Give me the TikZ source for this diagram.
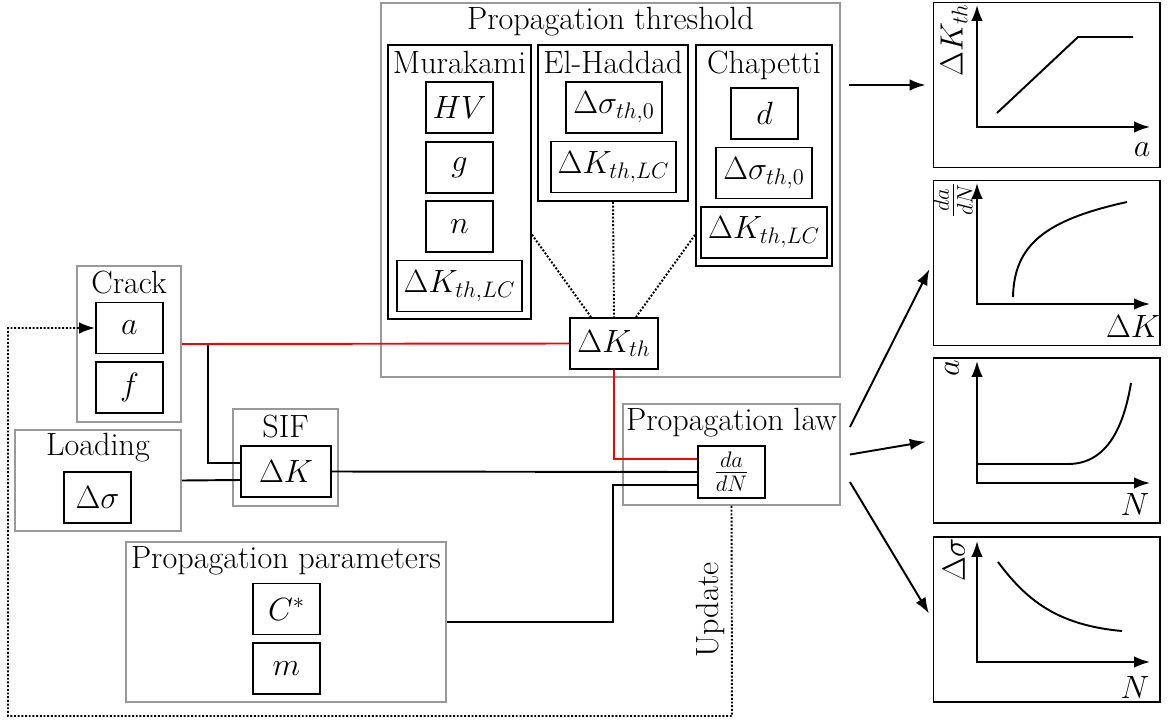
\RequirePackage{fix-cm}
\documentclass[tikz,border=0pt]{standalone}
\usetikzlibrary{arrows.meta}
\tikzset{
  box/.style={draw, line width=1.1pt, minimum width=1.34cm, minimum height=1.02cm, inner xsep=0.14cm},
  group/.style={draw=black!40, line width=1.1pt},
  framed/.style={draw, line width=1.1pt},
  plotbox/.style={draw, line width=0.6pt, minimum width=4.54cm, minimum height=3.3cm},
  title/.style={anchor=base},
  wire/.style={line width=1.1pt},
}
\begin{document}
\begin{tikzpicture}[x=0.02cm, y=-0.02cm, font=\fontsize{18.3}{22}\selectfont, >={Latex[length=9pt,width=6.5pt]}]
\useasboundingbox (0,0) rectangle (1169,723);

% propagation threshold
\node[group, minimum width=9.18cm, minimum height=7.48cm] (thr) at (610.5,190) {};
\node[title] (thrtitle) at (610.5,30) {Propagation threshold};
\node[framed, minimum width=2.86cm, minimum height=5.48cm] (mura) at (459.5,182) {};
\node[title] (muratitle) at (459.5,73) {Murakami};
\node[box] (mhv) at (459.5,107.5) {$HV$};
\node[box] (mg) at (459.5,167.5) {$g$};
\node[box] (mn) at (459.5,226.5) {$n$};
\node[box] (mk) at (459.5,286) {$\Delta K_{th,LC}$};
\node[framed, minimum width=3cm, minimum height=3.12cm] (elh) at (613,123) {};
\node[title] (elhtitle) at (613,73) {El-Haddad};
\node[box] (eds) at (614,107.5) {$\Delta\sigma_{th,0}$};
\node[box] (ek) at (613.5,167) {$\Delta K_{th,LC}$};
\node[framed, minimum width=2.72cm, minimum height=4.42cm] (chap) at (764,155.5) {};
\node[title] (chaptitle) at (764,73) {Chapetti};
\node[box] (cd) at (764.5,113.5) {$d$};
\node[box] (cds) at (764,173) {$\Delta\sigma_{th,0}$};
\node[box] (ck) at (764,232.5) {$\Delta K_{th,LC}$};
\node[box] (dkth) at (614,343.5) {$\Delta K_{th}$};

% crack, loading, SIF
\node[group, minimum width=2.08cm, minimum height=3.12cm] (crack) at (129,344) {};
\node[title] (cracktitle) at (129,293) {Crack};
\node[box] (a) at (129.5,328) {$a$};
\node[box] (f) at (129.5,387.5) {$f$};
\node[group, minimum width=3.32cm, minimum height=2.02cm] (loading) at (98,480.5) {};
\node[title] (loadtitle) at (98,455) {Loading};
\node[box] (ds) at (97.5,497.5) {$\Delta\sigma$};
\node[group, minimum width=2.1cm, minimum height=1.94cm] (sif) at (285.5,457.5) {};
\node[title] (siftitle) at (285.5,437) {SIF};
\node[box, minimum width=1.8cm] (dk) at (286,471.5) {$\Delta K$};

% propagation parameters and law
\node[group, minimum width=6.4cm, minimum height=3.2cm] (pp) at (286,622) {};
\node[title] (pptitle) at (286,568) {Propagation parameters};
\node[box] (cstar) at (286.5,609) {$C^*$};
\node[box] (m) at (286.5,668.5) {$m$};
\node[group, minimum width=4.34cm, minimum height=2.02cm] (law) at (731.5,454.5) {};
\node[title] (lawtitle) at (731.5,430) {Propagation law};
\node[box] (dadn) at (731.5,472) {$\frac{da}{dN}$};

% connections
\draw[wire, densely dotted] (mura.-36.5) -- ([xshift=-0.46cm]dkth.north);
\draw[wire, densely dotted] (elh.south) -- (dkth.north);
\draw[wire, densely dotted] (chap.229.5) -- ([xshift=0.44cm]dkth.north);
\coordinate (split) at (208,344);
\draw[wire] (split) |- ([yshift=0.17cm]dk.west);
\draw[wire, red] (crack.east) -- (dkth.west);
\draw[wire, red] (dkth.south) |- ([yshift=0.26cm]dadn.west);
\draw[wire] (loading.east) -- ([yshift=-0.17cm]dk.west);
\draw[wire] (dk.east) -- (dadn.west);
\coordinate (bend) at (613,622);
\draw[wire] (pp.east) -- (bend) |- ([yshift=-0.26cm]dadn.west);
\coordinate (upd) at (732,716);
\coordinate (back) at (8,716);
\draw[wire, densely dotted, ->] (law.south) -- (upd) -- (back) |- (a.west);
\node[rotate=90] (updlabel) at (710,610) {Update};

% graphs
\node[plotbox] (g1) at (1046.5,85) {};
\node[plotbox] (g2) at (1046.5,263) {};
\node[plotbox] (g3) at (1046.5,440.5) {};
\node[plotbox] (g4) at (1046.5,619.5) {};
\draw[wire, ->, shorten >=0.14cm] ([xshift=0.16cm]thr.east |- g1.west) -- (g1.west);
\draw[wire, ->, shorten >=0.14cm] ([xshift=0.18cm, yshift=0.55cm]law.east) -- (g2.west);
\draw[wire, ->, shorten >=0.14cm] ([xshift=0.18cm]law.east) -- (g3.west);
\draw[wire, ->, shorten >=0.14cm] ([xshift=0.18cm, yshift=-0.55cm]law.east) -- (g4.west);

\draw[wire, <->] (977,5) -- (977,127) -- (1150,127);
\draw[wire] (997,113) -- (1078,37) -- (1133,37);
\node[rotate=90] (g1y) at (954,40) {$\Delta K_{th}$};
\node (g1x) at (1142,150) {$a$};

\draw[wire, <->] (977,183) -- (977,304) -- (1150,304);
\draw[wire] (1013,297) .. controls (1014,245) and (1045,220) .. (1127,202);
\node[rotate=90] (g2y) at (953,200) {$\frac{da}{dN}$};
\node (g2x) at (1133,327) {$\Delta K$};

\draw[wire, <->] (977,361) -- (977,483) -- (1150,483);
\draw[wire] (977,464) -- (1068,464) .. controls (1108,464) and (1124,425) .. (1131,383);
\node[rotate=90] (g3y) at (952,368) {$a$};
\node (g3x) at (1135,505) {$N$};

\draw[wire, <->] (977,541) -- (977,662) -- (1150,662);
\draw[wire] (998,562) .. controls (1025,598) and (1055,625) .. (1122,631);
\node[rotate=90] (g4y) at (954,560) {$\Delta\sigma$};
\node (g4x) at (1135,688) {$N$};
\end{tikzpicture}
\end{document}
